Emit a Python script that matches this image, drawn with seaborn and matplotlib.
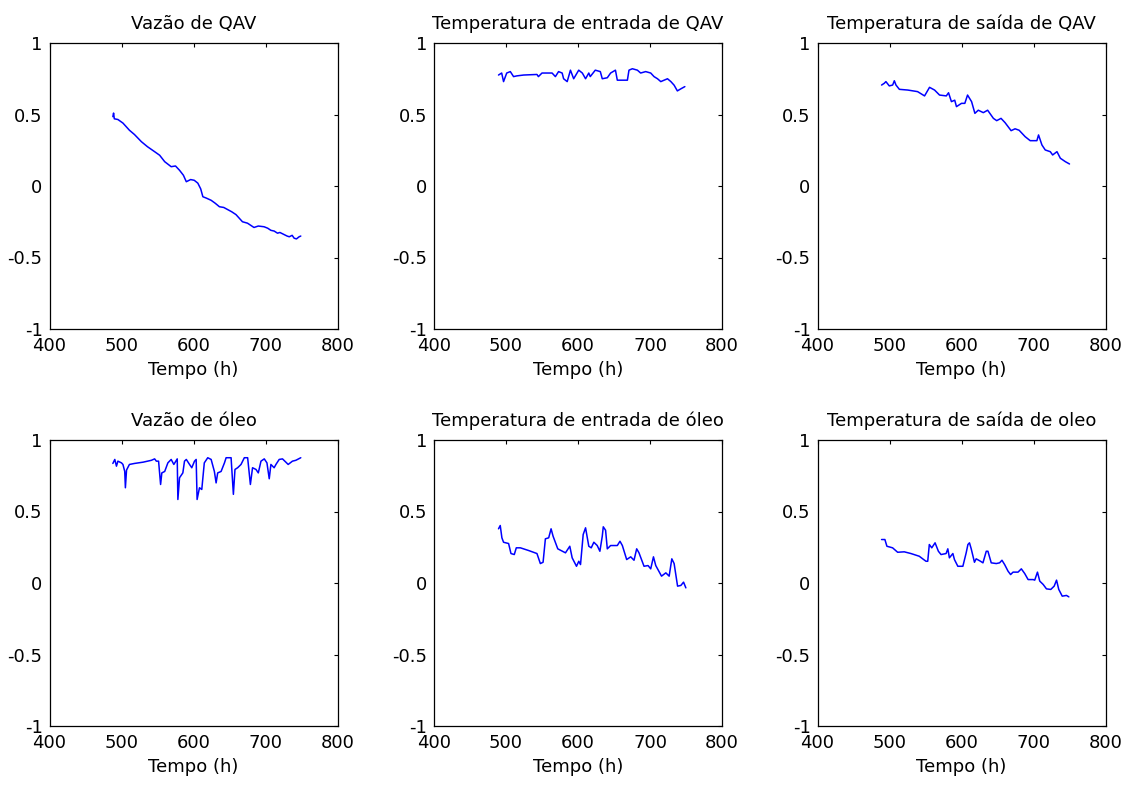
import numpy as np
import pandas as pd
import matplotlib
matplotlib.use("Agg")
import matplotlib.pyplot as plt
import seaborn as sns

# ---------------- data ----------------
t_vazao_qav = [488, 489, 490, 495, 502, 511, 518, 527.6, 536, 546, 553, 560, 569, 575, 580.6,
               586, 590, 596, 601, 606, 610, 613, 618, 624.5, 630, 636, 642, 647.5, 653, 659,
               668, 675, 684, 690, 698, 703, 707.5, 712, 716.7, 720, 726, 730, 733, 737, 739.8,
               743, 746.7, 749]
v_vazao_qav = [0.485, 0.51, 0.47, 0.465, 0.44, 0.39, 0.36, 0.31, 0.275, 0.24, 0.215, 0.17, 0.135,
               0.14, 0.11, 0.075, 0.03, 0.045, 0.04, 0.02, -0.02, -0.075, -0.085, -0.1, -0.12,
               -0.145, -0.15, -0.165, -0.18, -0.2, -0.25, -0.26, -0.29, -0.28, -0.285, -0.295,
               -0.31, -0.315, -0.33, -0.325, -0.34, -0.35, -0.355, -0.345, -0.365, -0.37, -0.355,
               -0.35]

t_tent_qav = [489.6, 494, 496.6, 501, 506, 510.5, 515, 524.5, 543, 545, 550, 564, 568.6, 573, 578,
              580, 585, 589.5, 594, 601, 606, 610.5, 615, 617, 624, 631, 633.7, 640.7, 645.3, 652,
              654.6, 663.8, 668.6, 670.8, 675.5, 682.5, 687, 694, 701, 705.6, 710.4, 715, 719.6,
              724.3, 729, 733.5, 738, 743, 748.4]
v_tent_qav = [0.776, 0.79, 0.73, 0.79, 0.80, 0.765, 0.77, 0.776, 0.78, 0.765, 0.79, 0.79, 0.765,
              0.80, 0.79, 0.75, 0.73, 0.81, 0.75, 0.81, 0.79, 0.75, 0.79, 0.765, 0.81, 0.80, 0.75,
              0.757, 0.79, 0.81, 0.74, 0.74, 0.74, 0.81, 0.82, 0.81, 0.79, 0.80, 0.79, 0.765, 0.75,
              0.73, 0.74, 0.75, 0.73, 0.705, 0.665, 0.68, 0.695]

t_tsai_qav = [489, 492.7, 495, 499.7, 504.4, 506.7, 509, 513.7, 525.4, 539, 548.7, 555.6, 562.6,
              569.5, 578.9, 582, 586, 590.6, 593, 600, 604.6, 608.4, 614, 618.6, 623.3, 630.3,
              636.3, 644.3, 648.9, 654.9, 660.5, 668.9, 674.4, 680, 688.4, 695.4, 704.7, 707,
              711.7, 716.3, 723.3, 726.6, 732.6, 737.3, 744.3, 750]
v_tsai_qav = [0.706, 0.718, 0.73, 0.70, 0.706, 0.736, 0.706, 0.676, 0.671, 0.66, 0.63, 0.69, 0.671,
              0.636, 0.63, 0.652, 0.59, 0.60, 0.555, 0.578, 0.578, 0.636, 0.59, 0.508, 0.53, 0.513,
              0.53, 0.473, 0.457, 0.473, 0.443, 0.387, 0.40, 0.39, 0.345, 0.317, 0.317, 0.357,
              0.287, 0.252, 0.24, 0.217, 0.24, 0.194, 0.17, 0.154]

t_vazao_oleo = [488, 490.7, 493, 495, 500, 502, 504.5, 505.4, 507, 511, 518, 530, 541.5, 546, 548.4,
                551.5, 554.3, 556, 560, 564.4, 569, 572.7, 577.4, 578.3, 580.6, 585.2, 587.5, 590,
                594.5, 597.6, 601.4, 603.7, 605, 608.3, 611.5, 615, 619.8, 624.5, 629, 631.4,
                633.6, 638.3, 643, 645.3, 652.2, 655.4, 657.6, 661.3, 666, 670.6, 675.2, 679, 682,
                686.8, 690, 693.7, 698.3, 702, 705.2, 707.5, 712, 714.5, 719, 723.6, 728.3, 731.5,
                737.4, 742.1, 749]
v_vazao_oleo = [0.836, 0.864, 0.817, 0.852, 0.84, 0.829, 0.78, 0.666, 0.79, 0.829, 0.836, 0.845,
                0.858, 0.868, 0.852, 0.852, 0.689, 0.77, 0.78, 0.84, 0.864, 0.829, 0.868, 0.584,
                0.736, 0.77, 0.852, 0.864, 0.829, 0.806, 0.852, 0.864, 0.584, 0.666, 0.654, 0.84,
                0.876, 0.864, 0.78, 0.70, 0.77, 0.78, 0.84, 0.876, 0.876, 0.62, 0.794, 0.806, 0.829,
                0.876, 0.876, 0.689, 0.806, 0.794, 0.77, 0.852, 0.868, 0.84, 0.729, 0.829, 0.806,
                0.829, 0.864, 0.868, 0.845, 0.829, 0.852, 0.858, 0.876]

t_tent_oleo = [489.6, 492, 494.3, 496.6, 503.6, 506.9, 511.5, 514.3, 520, 531.5, 543, 547.7, 551.5,
               554.7, 559.3, 562.6, 565.4, 571.9, 582.6, 588.6, 591.9, 597.9, 601.1, 603.5, 607.2,
               610.5, 615, 618.4, 622, 626.7, 630.4, 633.7, 635.1, 638.3, 640.7, 645.3, 654.6,
               658.3, 661.6, 667.6, 673.2, 677.8, 681.5, 684.7, 691.7, 697.3, 701, 704.8, 708, 716,
               722, 726.6, 730.3, 733.5, 738.3, 742.9, 746.6, 749.8]
v_tent_oleo = [0.379, 0.402, 0.316, 0.285, 0.276, 0.206, 0.199, 0.246, 0.246, 0.227, 0.206, 0.136,
               0.145, 0.309, 0.316, 0.379, 0.327, 0.239, 0.211, 0.257, 0.176, 0.117, 0.152, 0.129,
               0.339, 0.386, 0.257, 0.246, 0.285, 0.262, 0.222, 0.327, 0.393, 0.369, 0.239, 0.262,
               0.262, 0.292, 0.262, 0.164, 0.183, 0.159, 0.239, 0.211, 0.117, 0.122, 0.099, 0.183,
               0.122, 0.048, 0.071, 0.048, 0.169, 0.136, -0.022, -0.017, 0.006, -0.034]

t_tsai_oleo = [489, 493.6, 496.4, 504.3, 511.3, 520.5, 529.8, 541.4, 546.1, 550.7, 553.1, 555.3,
               558.7, 563.3, 567.9, 571.6, 578.6, 581, 583.2, 588, 590.2, 594.9, 601.9, 606.5,
               608.9, 611.1, 613.5, 618, 620.4, 626.4, 629.8, 634.4, 636.7, 641.3, 648.3, 652.9,
               656.2, 659.9, 664.6, 668.2, 671.6, 678.5, 683.1, 687.8, 692.5, 699.5, 701.7, 705.5,
               708.7, 713.4, 718, 724, 728.7, 732, 735.1, 739.9, 745.8, 749.1]
v_tsai_oleo = [0.304, 0.304, 0.257, 0.246, 0.215, 0.218, 0.206, 0.187, 0.169, 0.152, 0.152, 0.269,
               0.246, 0.281, 0.222, 0.199, 0.206, 0.239, 0.176, 0.206, 0.164, 0.117, 0.117, 0.211,
               0.269, 0.281, 0.239, 0.145, 0.169, 0.152, 0.141, 0.222, 0.222, 0.141, 0.136, 0.141,
               0.159, 0.129, 0.083, 0.059, 0.076, 0.076, 0.099, 0.066, 0.024, 0.024, 0.020, 0.076,
               0.013, -0.010, -0.041, -0.045, -0.022, 0.020, -0.045, -0.092, -0.087, -0.097]

titles = ["Vazão de QAV", "Temperatura de entrada de QAV", "Temperatura de saída de QAV",
          "Vazão de óleo", "Temperatura de entrada de óleo", "Temperatura de saída de oleo"]
series = [(t_vazao_qav, v_vazao_qav), (t_tent_qav, v_tent_qav), (t_tsai_qav, v_tsai_qav),
          (t_vazao_oleo, v_vazao_oleo), (t_tent_oleo, v_tent_oleo), (t_tsai_oleo, v_tsai_oleo)]
x_ticks = [400, 500, 600, 700, 800]
y_ticks = [-1, -0.5, 0, 0.5, 1]
y_ticklabels = ["-1", "-0.5", "0", "0.5", "1"]
x_label = "Tempo (h)"

# ---------------- figure ----------------
sns.set_theme(style="white")
plt.rcParams['font.family'] = ['DejaVu Sans']

W, H = 1126, 785
fig = plt.figure(figsize=(W / 100, H / 100), dpi=100)

lefts = [49.5, 434, 817.5]
tops = [43, 440]
aw, ah = 288, 286

for i, (title, (t, v)) in enumerate(zip(titles, series)):
    r, c = divmod(i, 3)
    ax = fig.add_axes([lefts[c] / W, 1 - (tops[r] + ah) / H, aw / W, ah / H])
    df = pd.DataFrame({"t": t, "v": v})
    sns.lineplot(data=df, x="t", y="v", ax=ax, color="#0000ff", linewidth=1.1,
                 sort=False, estimator=None)
    ax.set_xlim(400, 800)
    ax.set_ylim(-1, 1)
    ax.set_xticks(x_ticks)
    ax.set_xticklabels([str(x) for x in x_ticks])
    ax.set_yticks(y_ticks)
    ax.set_yticklabels(y_ticklabels)
    ax.tick_params(direction="in", length=3, width=0.8, colors="black",
                   top=True, right=True, labelsize=13)
    ax.tick_params(axis="x", pad=6)
    ax.tick_params(axis="y", pad=5)
    for sp in ax.spines.values():
        sp.set_visible(True)
        sp.set_color("black")
        sp.set_linewidth(0.9)
    ax.set_title(title, fontsize=13, pad=10, color="black")
    ax.set_xlabel(x_label, fontsize=13, labelpad=4, color="black")
    ax.set_ylabel("")
    ax.set_facecolor("white")

fig.savefig("out.png", dpi=100, facecolor="white")
